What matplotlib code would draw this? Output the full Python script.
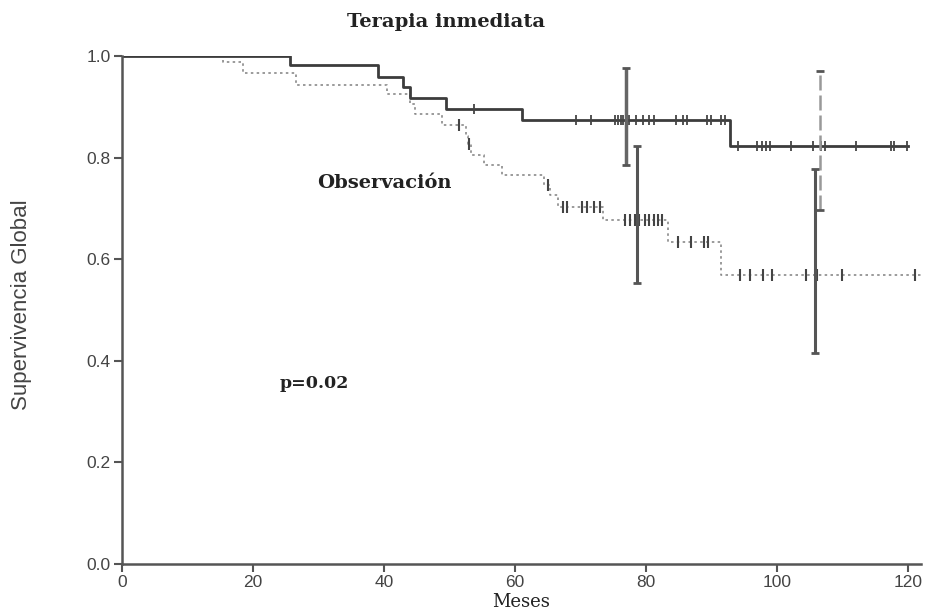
import numpy as np
import matplotlib
matplotlib.use("Agg")
import matplotlib.pyplot as plt

# ---- data ----
treat_t = [0, 25.7, 39.1, 42.9, 44.0, 49.5, 61.0, 92.9, 120.0]
treat_s = [1.0, 0.983, 0.959, 0.939, 0.918, 0.895, 0.875, 0.822, 0.822]
treat_cens = [53.7, 69.3, 71.6, 75.3, 75.7, 76.2, 76.5, 77.4, 78.5, 79.5, 80.5, 81.2,
              84.6, 85.6, 86.3, 89.3, 90.0, 91.5, 92.1, 94.1, 96.9, 97.7, 98.3, 99.0,
              102.2, 105.5, 106.8, 107.3, 112.1, 117.4, 117.9, 119.9]

obs_t = [0, 15.4, 18.5, 26.6, 40.5, 44.0, 44.8, 48.8, 52.5, 52.9, 53.3, 55.2, 58.0,
         64.5, 65.3, 66.5, 73.4, 83.4, 91.4, 122.0]
obs_s = [1.0, 0.988, 0.966, 0.943, 0.926, 0.905, 0.885, 0.865, 0.843, 0.826, 0.805,
         0.786, 0.765, 0.746, 0.727, 0.703, 0.677, 0.633, 0.568, 0.568]
obs_cens = [51.5, 53.0, 65.1, 67.4, 67.9, 70.2, 71.0, 72.0, 73.0, 76.8, 77.6, 78.3,
            79.0, 79.8, 80.5, 81.2, 81.8, 82.4, 84.9, 86.9, 88.8, 89.5, 94.4, 95.9,
            97.9, 99.2, 104.5, 106.1, 109.9, 121.1]

treat_ci_x = [77.0, 106.6]
treat_ci_lo = [0.786, 0.696]
treat_ci_hi = [0.977, 0.970]
obs_ci_x = [78.6, 105.8]
obs_ci_lo = [0.554, 0.416]
obs_ci_hi = [0.823, 0.777]

x_ticks = [0, 20, 40, 60, 80, 100, 120]
y_ticks = [0.0, 0.2, 0.4, 0.6, 0.8, 1.0]


def level_at(times, surv, x):
    idx = np.searchsorted(np.asarray(times), np.asarray(x), side="right") - 1
    return np.asarray(surv)[idx]


fig = plt.figure(figsize=(9.32, 6.11), dpi=100)
ax = fig.add_axes([0.1309, 0.0769, 0.8573, 0.8314])

grey = "#8a8a8a"

# curves
ax.step(obs_t, obs_s, where="post", color=grey, lw=1.2, ls=(0, (1.5, 2)))
ax.step(treat_t, treat_s, where="post", color="#3c3c3c", lw=2.0)

# censor marks
ax.plot(obs_cens, level_at(obs_t, obs_s, obs_cens), ls="none", marker="|",
        ms=8, mew=1.5, color="#444444")
ax.plot(treat_cens, level_at(treat_t, treat_s, treat_cens), ls="none", marker="|",
        ms=7, mew=1.3, color="#444444")

# confidence bars
ax.vlines(treat_ci_x[0], treat_ci_lo[0], treat_ci_hi[0], color="#666666", lw=2.5)
ax.vlines(treat_ci_x[1], treat_ci_lo[1], treat_ci_hi[1], color="#999999", lw=1.8,
          linestyles=(0, (6, 2)))
ax.vlines(obs_ci_x, obs_ci_lo, obs_ci_hi, color="#555555", lw=2.2)
for xs, lo, hi in [(treat_ci_x, treat_ci_lo, treat_ci_hi), (obs_ci_x, obs_ci_lo, obs_ci_hi)]:
    ax.plot(xs, lo, ls="none", marker="_", ms=6, mew=2, color="#555555")
    ax.plot(xs, hi, ls="none", marker="_", ms=6, mew=2, color="#555555")

# axes styling
ax.set_xlim(0, 122)
ax.set_ylim(0, 1.0)
for s in ["top", "right"]:
    ax.spines[s].set_visible(False)
for s in ["left", "bottom"]:
    ax.spines[s].set_color("#555555")
    ax.spines[s].set_linewidth(1.8)
ax.set_xticks(x_ticks)
ax.set_xticklabels([str(v) for v in x_ticks])
ax.set_yticks(y_ticks)
ax.set_yticklabels([f"{v:.1f}" for v in y_ticks])
ax.tick_params(direction="out", length=6, width=1.5, color="#555555",
               labelcolor="#444444", labelsize=12.5, pad=2)
for lab in ax.get_xticklabels() + ax.get_yticklabels():
    lab.set_family("Liberation Sans")

ax.set_ylabel("Supervivencia Global", family="Liberation Sans", fontsize=16,
              color="#444444")
ax.yaxis.set_label_coords(-0.113, 0.51)
ax.set_xlabel("Meses", family="DejaVu Serif", fontsize=13, color="#222222")
ax.xaxis.set_label_coords(0.5, -0.058)

ax.text(49.5, 1.067, "Terapia inmediata", family="DejaVu Serif", fontweight="bold",
        fontsize=14, ha="center", va="center", color="#222222", clip_on=False)
ax.text(40.1, 0.75, "Observación", family="DejaVu Serif", fontweight="bold",
        fontsize=14, ha="center", va="center", color="#222222")
ax.text(29.4, 0.356, "p=0.02", family="DejaVu Serif", fontweight="bold",
        fontsize=12.5, ha="center", va="center", color="#222222")

fig.savefig("out.png", dpi=100)
